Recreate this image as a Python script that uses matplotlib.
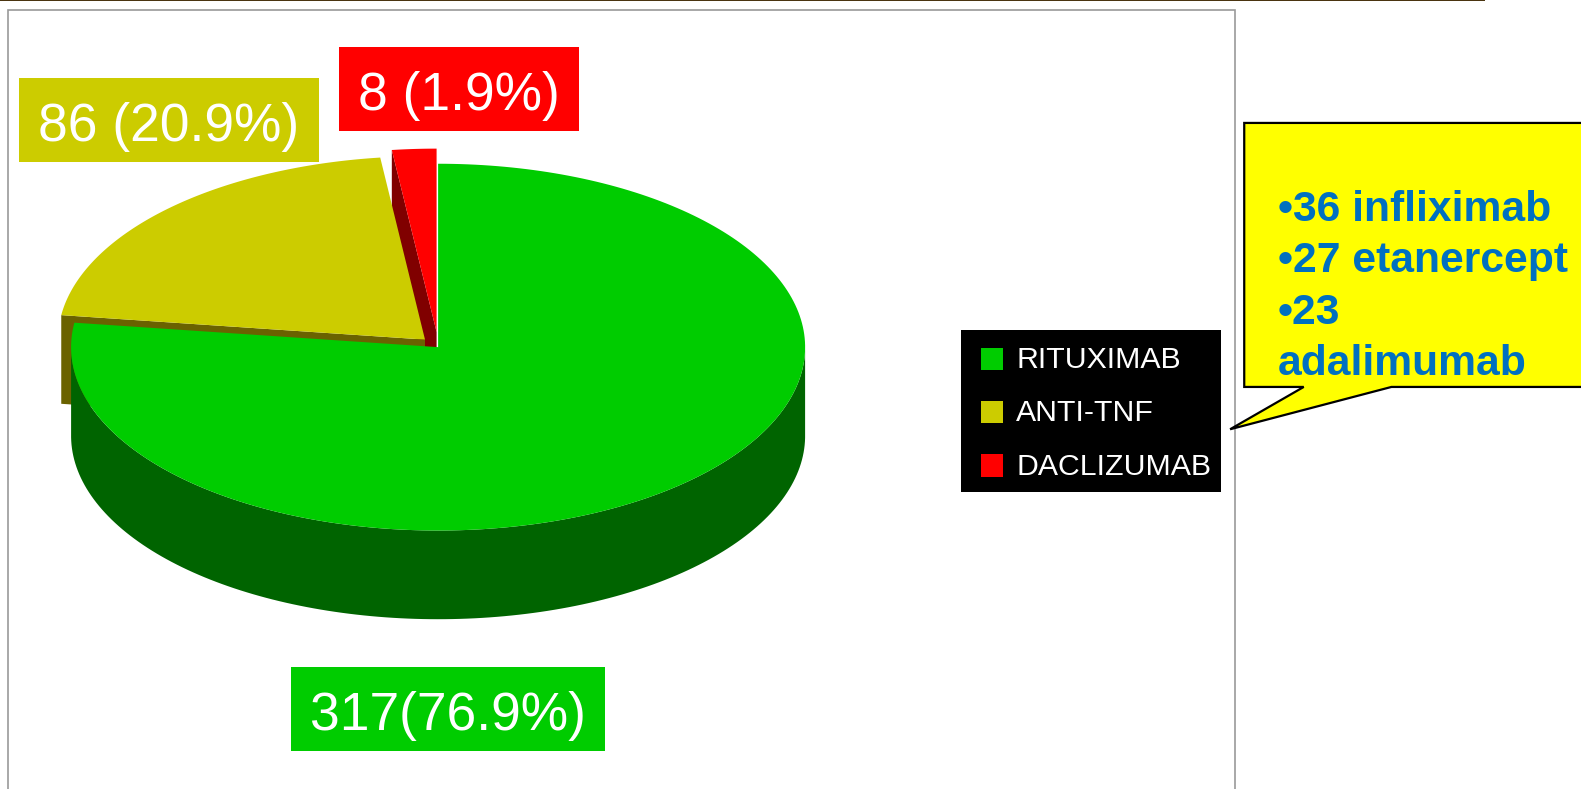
import numpy as np
import matplotlib
matplotlib.use("Agg")
import matplotlib.pyplot as plt
from matplotlib.patches import Rectangle, Polygon

plt.rcParams['font.family'] = ['Liberation Sans', 'DejaVu Sans']

# ---- data ----
categories = ["RITUXIMAB", "ANTI-TNF", "DACLIZUMAB"]
values = [317, 86, 8]
slice_labels = ["317(76.9%)", "86 (20.9%)", "8 (1.9%)"]
callout_lines = ["•36 infliximab", "•27 etanercept", "•23", "adalimumab"]

# ---- style / geometry ----
top_cols = ["#00CC00", "#CCCC00", "#FF0000"]
side_cols = ["#006400", "#6A6200", "#800000"]
CX, CY, RX, RY, DEPTH = 434.5, 344.5, 364, 182, 88
offsets = [(0, 0), (-13, -7.5), (-1.5, -15)]
label_boxes = [(289, 662, 311, 83), (19, 77, 297, 84), (336, 47, 238, 83)]
PX = 0.72 * 1.0083   # shrunk-pixel font size -> points

fig = plt.figure(figsize=(15.81, 7.89), dpi=100, facecolor="white")
ax = fig.add_axes([0, 0, 1, 1])
ax.set_xlim(0, 1568)
ax.set_ylim(783, 0)
ax.axis("off")

# page furniture
ax.add_patch(Rectangle((0, -1), 1473, 2.4, fc="#4A3410", ec="none", zorder=1))
ax.add_patch(Rectangle((8, 10), 1217, 790, fc="white", ec="#9A9A9A", lw=1.2, zorder=1))

# slice angles from the values (clockwise from 12 o'clock)
fracs = np.array(values, float) / sum(values)
edges = np.concatenate([[0], np.cumsum(fracs)]) * 2 * np.pi


def arc(i, n=240):
    t = np.linspace(edges[i], edges[i + 1], n)
    ox, oy = offsets[i]
    return np.column_stack([CX + ox + RX * np.sin(t), CY + oy - RY * np.cos(t)])


def apex(i):
    ox, oy = offsets[i]
    return np.array([CX + ox, CY + oy])


down = np.array([0, DEPTH])

# red: cut wall then top
a = arc(2)
p = apex(2)
ax.add_patch(Polygon([a[0], p, p + down, a[0] + down], fc=side_cols[2], ec="none", zorder=2))
ax.add_patch(Polygon(np.vstack([[p], a]), fc=top_cols[2], ec="none", zorder=3))

# yellow: cut wall then top
a = arc(1)
p = apex(1)
ax.add_patch(Polygon([a[0], p, p + down, a[0] + down], fc=side_cols[1], ec="none", zorder=4))
ax.add_patch(Polygon(np.vstack([[p], a]), fc=top_cols[1], ec="none", zorder=5))

# green: front outer band then top
a = arc(0)
t = np.linspace(edges[0], edges[1], len(a))
front = a[(t >= np.pi / 2) & (t <= 1.5 * np.pi)]
ax.add_patch(Polygon(np.vstack([front, (front + down)[::-1]]), fc=side_cols[0], ec="none", zorder=6))
p = apex(0)
ax.add_patch(Polygon(np.vstack([[p], a]), fc=top_cols[0], ec="none", zorder=7))

# value labels
for (x, y, w, h), lab, col in zip(label_boxes, slice_labels, top_cols):
    ax.add_patch(Rectangle((x, y), w, h, fc=col, ec="none", zorder=8))
    ax.text(x + w / 2, y + h / 2 + 7, lab, color="white", fontsize=53 * PX,
            ha="center", va="center", zorder=9)

# legend
ax.add_patch(Rectangle((953, 327), 258, 161, fc="black", ec="none", zorder=8))
for cat, col, yc in zip(categories, top_cols, [356, 409, 462]):
    ax.add_patch(Rectangle((973, yc - 11), 22, 22, fc=col, ec="none", zorder=9))
    ax.text(1008, yc + 1, cat, color="white", fontsize=30 * PX, ha="left", va="center", zorder=9)

# callout
ax.add_patch(Polygon([(1234, 122), (1600, 122), (1600, 384), (1380, 384), (1220, 426),
                      (1293, 384), (1234, 384)], closed=True, fc="#FFFF00", ec="black",
                     lw=1.6, zorder=8))
for line, yc in zip(callout_lines, [205, 256, 308, 358]):
    ax.text(1267, yc + 3, line, color="#0070C0", fontsize=42.3 * PX, fontweight="bold",
            ha="left", va="center", zorder=9)

fig.savefig("out.png", dpi=100, facecolor="white")
